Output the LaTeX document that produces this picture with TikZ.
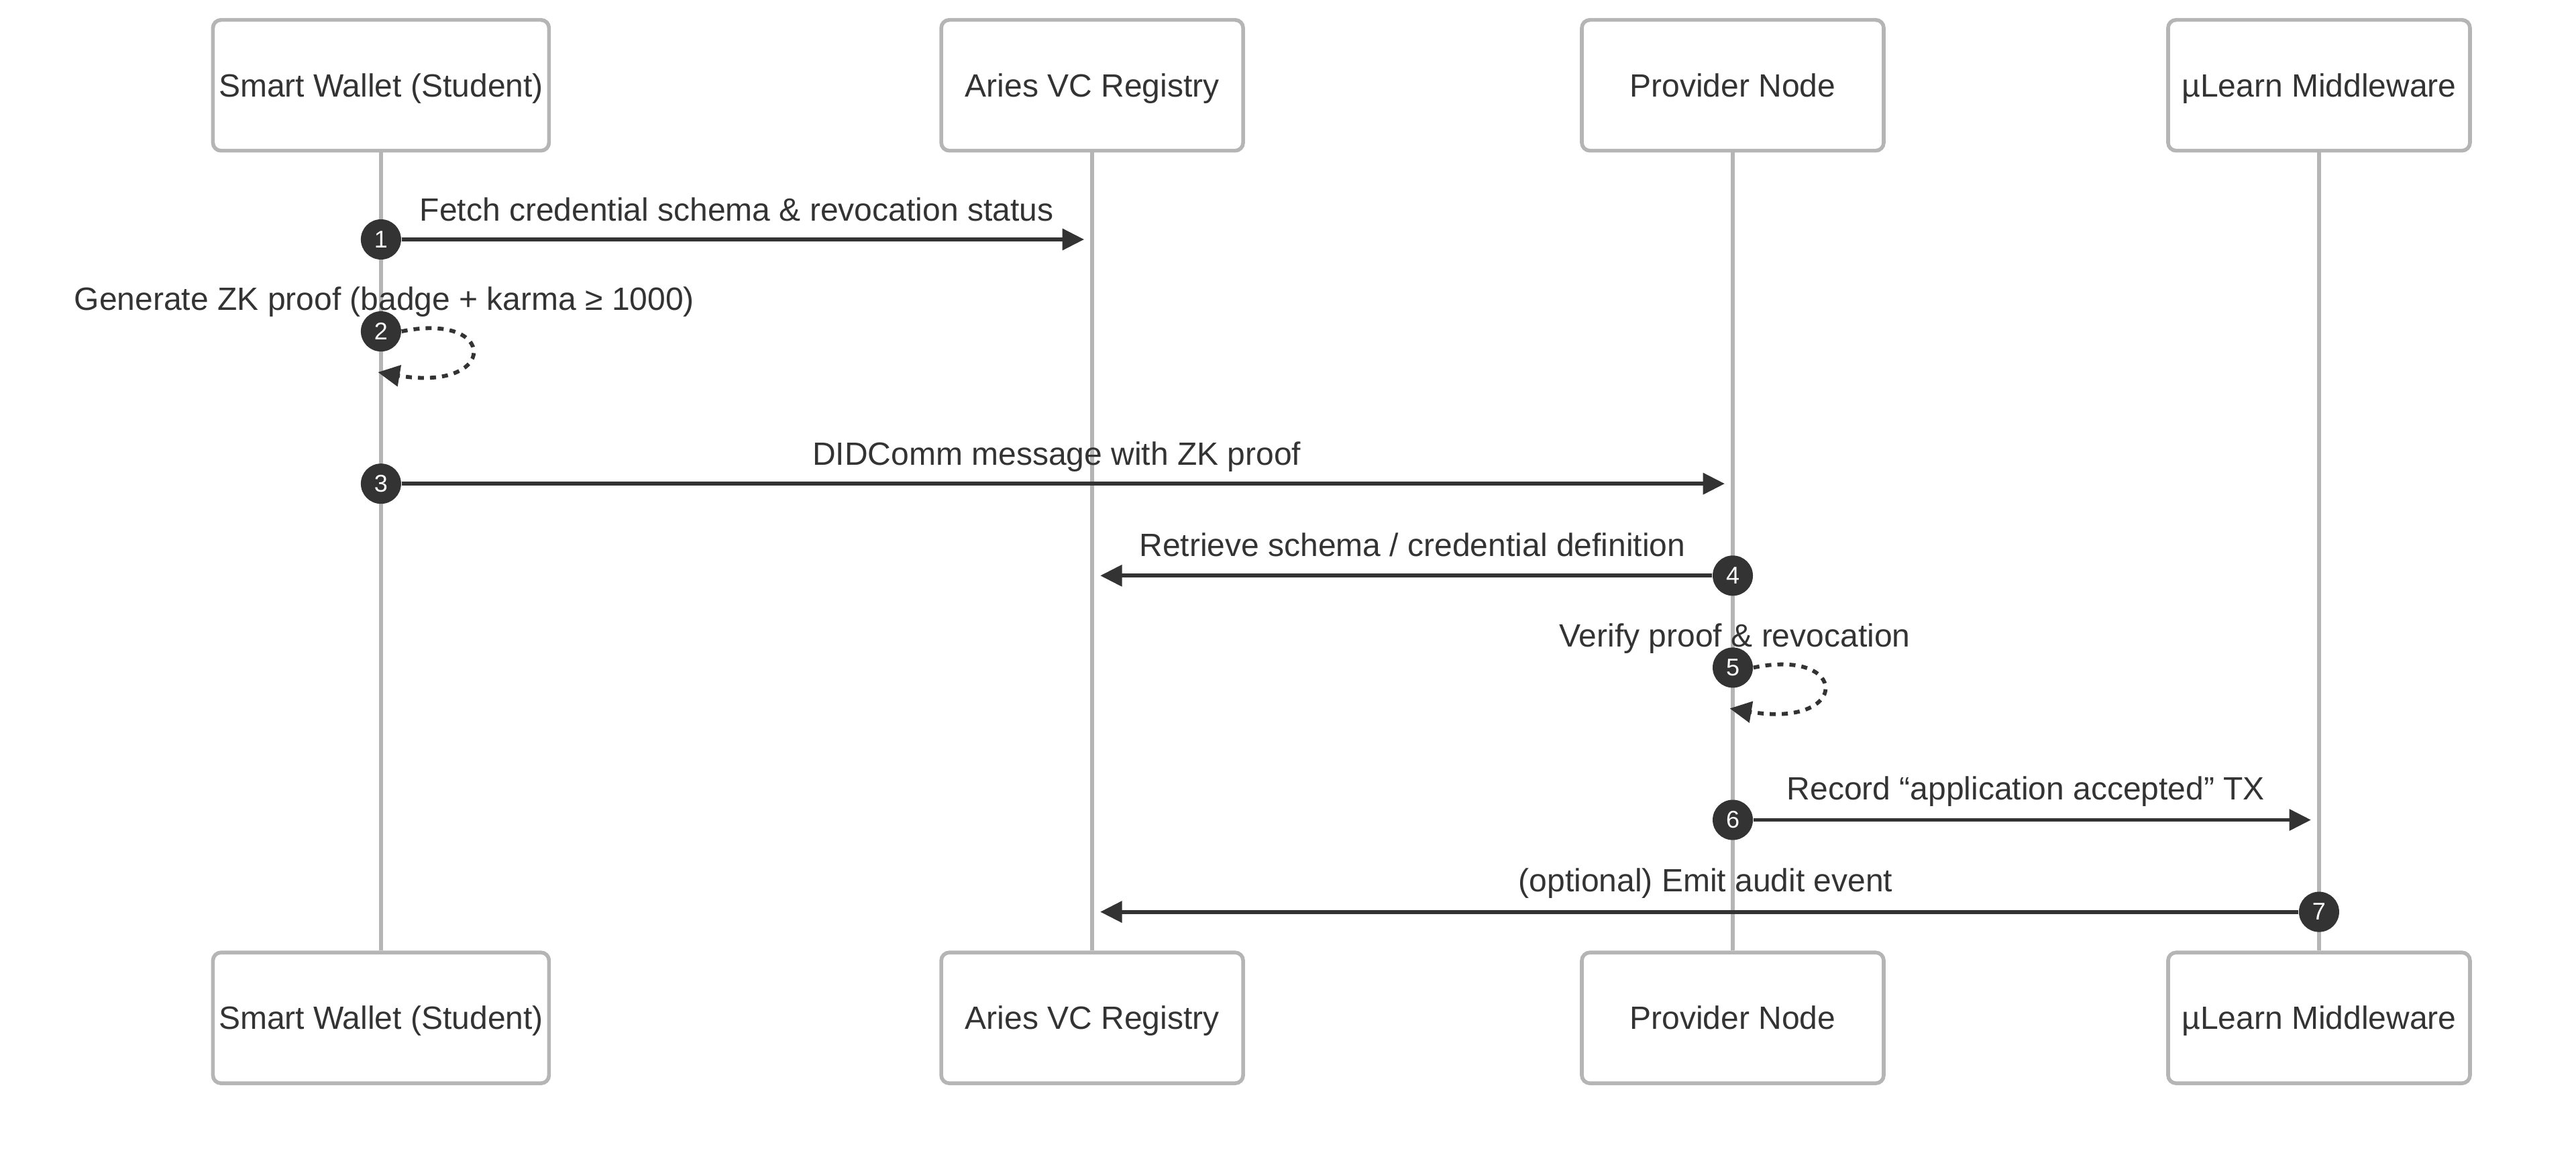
\documentclass[tikz,border=0pt]{standalone}
\usepackage{fontspec}
\setmainfont{Liberation Sans}
\usepackage{tikz}
\usetikzlibrary{arrows.meta}
\definecolor{ink}{HTML}{333333}
\definecolor{lifegray}{HTML}{B5B5B5}

\begin{document}
\begin{tikzpicture}[x=0.75pt, y=-0.75pt,
	actor/.style={draw=lifegray, line width=1.4pt, rounded corners=3pt, fill=white, text=ink,
		minimum width=112.5pt, minimum height=48.75pt, inner sep=0pt, text height=8.6pt, text depth=0pt,
		font=\fontsize{12pt}{14pt}\selectfont},
	life/.style={draw=lifegray, line width=1.4pt},
	seqnum/.style={circle, fill=ink, text=white, inner sep=0pt, minimum size=15pt, font=\fontsize{9pt}{10pt}\selectfont},
	msg/.style={draw=ink, line width=1.45pt, -{Triangle[length=8.1pt, width=7.8pt]}},
	selfmsg/.style={msg, dash pattern=on 2.25pt off 2.25pt},
	lbl/.style={text=ink, anchor=base, inner sep=0pt, font=\fontsize{12pt}{14pt}\selectfont}]
	\useasboundingbox (0,0) rectangle (1280,581);
	% participants
	\node[actor, minimum width=125.25pt] (walletT) at (189.3,42.4) {Smart Wallet (Student)};
	\node[actor] (registryT) at (542.7,42.4) {Aries VC Registry};
	\node[actor] (providerT) at (861,42.4) {Provider Node};
	\node[actor] (middleT) at (1152.3,42.4) {µLearn Middleware};
	\node[actor, minimum width=125.25pt] (walletB) at (189.3,505.9) {Smart Wallet (Student)};
	\node[actor] (registryB) at (542.7,505.9) {Aries VC Registry};
	\node[actor] (providerB) at (861,505.9) {Provider Node};
	\node[actor] (middleB) at (1152.3,505.9) {µLearn Middleware};
	\draw[life] (walletT) -- (walletB);
	\draw[life] (registryT) -- (registryB);
	\draw[life] (providerT) -- (providerB);
	\draw[life] (middleT) -- (middleB);
	% numbered steps
	\node[seqnum] (n1) at (189.3,119) {1};
	\node[seqnum] (n2) at (189.3,164.7) {2};
	\node[seqnum] (n3) at (189.3,240.4) {3};
	\node[seqnum] (n4) at (861,286.1) {4};
	\node[seqnum] (n5) at (861,331.8) {5};
	\node[seqnum] (n6) at (861,407.5) {6};
	\node[seqnum] (n7) at (1152.3,453.2) {7};
	\coordinate (e1) at (538.7,119);
	\coordinate (e2) at (187.8,185);
	\coordinate (e3) at (857,240.4);
	\coordinate (e4) at (546.7,286.1);
	\coordinate (e5) at (859.5,352.1);
	\coordinate (e6) at (1148.3,407.5);
	\coordinate (e7) at (546.7,453.2);
	\draw[msg] (n1) -- (e1);
	\draw[selfmsg] (n2.east) .. controls +(48,-10) and +(60,10) .. (e2);
	\draw[msg] (n3) -- (e3);
	\draw[msg] (n4) -- (e4);
	\draw[selfmsg] (n5.east) .. controls +(48,-10) and +(60,10) .. (e5);
	\draw[msg] (n6) -- (e6);
	\draw[msg] (n7) -- (e7);
	% message texts
	\node[lbl] (t1) at (366,110) {Fetch credential schema \& revocation status};
	\node[lbl] (t2) at (191,154.3) {Generate ZK proof (badge + karma ≥ 1000)};
	\node[lbl] (t3) at (525.1,231) {DIDComm message with ZK proof};
	\node[lbl] (t4) at (701.8,276.6) {Retrieve schema / credential definition};
	\node[lbl] (t5) at (862,321.4) {Verify proof \& revocation};
	\node[lbl] (t6) at (1006.6,397.4) {Record “application accepted” TX};
	\node[lbl] (t7) at (847.5,443.2) {(optional) Emit audit event};
\end{tikzpicture}
\end{document}
